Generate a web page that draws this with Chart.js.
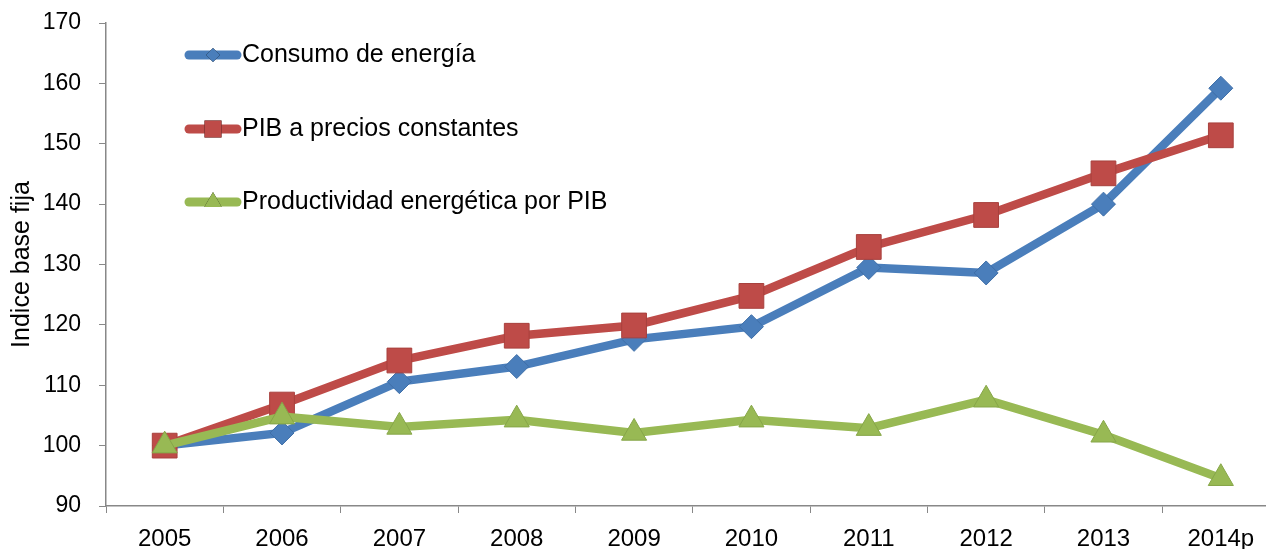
<!DOCTYPE html>
<html>
<head>
<meta charset="utf-8">
<script src="https://cdn.jsdelivr.net/npm/chart.js@4"></script>
<style>
  html, body { margin: 0; padding: 0; background: #fff; overflow: hidden; }
  #wrap { width: 1298px; height: 549px; }
</style>
</head>
<body>
<div id="wrap"><canvas id="chart" width="1298" height="549"></canvas></div>
<script>
// ─── Data ────────────────────────────────────────────────────────────────────
const years = ['2005', '2006', '2007', '2008', '2009', '2010', '2011', '2012', '2013', '2014p'];
const consumoEnergia = [100, 102.1, 110.6, 113.1, 117.6, 119.7, 129.5, 128.6, 140.0, 159.2];
const pibConstantes  = [100, 106.8, 114.1, 118.2, 119.9, 124.8, 132.9, 138.2, 145.1, 151.4];
const productividad  = [100, 104.8, 103.1, 104.3, 102.1, 104.3, 102.9, 107.6, 101.8, 94.6];
const yTicks = { min: 90, max: 170, step: 10 };
const yTitle = 'Indice base fija';

const FONT = "'Liberation Sans', Arial, sans-serif";
const COLORS = {
  blue:  '#4A7EBB', blueEdge:  '#3F6FA8',
  red:   '#BE4B48', redEdge:   '#A8403D',
  green: '#98B954', greenEdge: '#86A648',
  axis:  '#888888',
};

// ─── Legend drawn inside the plot (vertical, Excel style) ────────────────────
const insideLegend = {
  id: 'insideLegend',
  afterDraw(chart) {
    const ctx = chart.ctx;
    const x0 = 189, x1 = 237, textX = 242;
    const rows = [55, 129, 202];
    chart.data.datasets.forEach((ds, i) => {
      const y = rows[i];
      ctx.save();
      ctx.strokeStyle = ds.borderColor;
      ctx.lineWidth = 9;
      ctx.lineCap = 'round';
      ctx.beginPath();
      ctx.moveTo(x0, y);
      ctx.lineTo(x1, y);
      ctx.stroke();
      ctx.beginPath();
      Chart.helpers.drawPoint(ctx, {
        pointStyle: ds.pointStyle,
        radius: ds.legendRadius,
        borderWidth: 0,
      }, (x0 + x1) / 2, y);
      ctx.fillStyle = ds.pointBackgroundColor;
      ctx.fill();
      ctx.fillStyle = '#000';
      ctx.font = `25px ${FONT}`;
      ctx.textBaseline = 'middle';
      ctx.textAlign = 'left';
      ctx.fillText(ds.label, textX, y);
      ctx.restore();
    });
  }
};

// ─── Chart ───────────────────────────────────────────────────────────────────
new Chart(document.getElementById('chart'), {
  type: 'line',
  data: {
    labels: years,
    datasets: [
      {
        label: 'Consumo de energía',
        data: consumoEnergia,
        borderColor: COLORS.blue,
        borderWidth: 8.5,
        pointStyle: 'rectRot',
        pointRadius: 12,
        legendRadius: 7,
        pointBackgroundColor: COLORS.blue,
        pointBorderColor: COLORS.blueEdge,
        pointBorderWidth: 1,
        tension: 0,
        order: 2,
      },
      {
        label: 'PIB a precios constantes',
        data: pibConstantes,
        borderColor: COLORS.red,
        borderWidth: 8.5,
        pointStyle: 'rect',
        pointRadius: 17.5,
        legendRadius: 12,
        pointBackgroundColor: COLORS.red,
        pointBorderColor: COLORS.redEdge,
        pointBorderWidth: 1,
        tension: 0,
        order: 1,
      },
      {
        label: 'Productividad energética por PIB',
        data: productividad,
        borderColor: COLORS.green,
        borderWidth: 8.5,
        pointStyle: 'triangle',
        pointRadius: 14.5,
        legendRadius: 10,
        pointBackgroundColor: COLORS.green,
        pointBorderColor: COLORS.greenEdge,
        pointBorderWidth: 1,
        tension: 0,
        order: 0,
      },
    ]
  },
  options: {
    responsive: false,
    animation: false,
    layout: { padding: { top: 23, right: 8, bottom: 0, left: 0 } },
    plugins: {
      legend: { display: false },
      tooltip: { enabled: false },
    },
    scales: {
      x: {
        offset: true,
        grid: { offset: true, drawOnChartArea: false, tickLength: 7, color: COLORS.axis },
        border: { color: COLORS.axis, width: 1.5 },
        ticks: { color: '#000', font: { family: FONT, size: 24 }, padding: 12, maxRotation: 0 },
        afterFit(scale) { scale.height = 43; scale.paddingLeft = 0; scale.paddingRight = 0; },
      },
      y: {
        min: yTicks.min,
        max: yTicks.max,
        ticks: { stepSize: yTicks.step, color: '#000', font: { family: FONT, size: 23 }, padding: 18 },
        grid: { drawOnChartArea: false, tickLength: 7, color: COLORS.axis },
        border: { color: COLORS.axis, width: 1.5 },
        title: { display: true, text: yTitle, color: '#000', font: { family: FONT, size: 25 }, padding: { top: 7, bottom: 0 } },
        afterFit(scale) { scale.width = 106; scale.paddingTop = 0; scale.paddingBottom = 0; },
      },
    },
  },
  plugins: [insideLegend],
});
</script>
</body>
</html>
